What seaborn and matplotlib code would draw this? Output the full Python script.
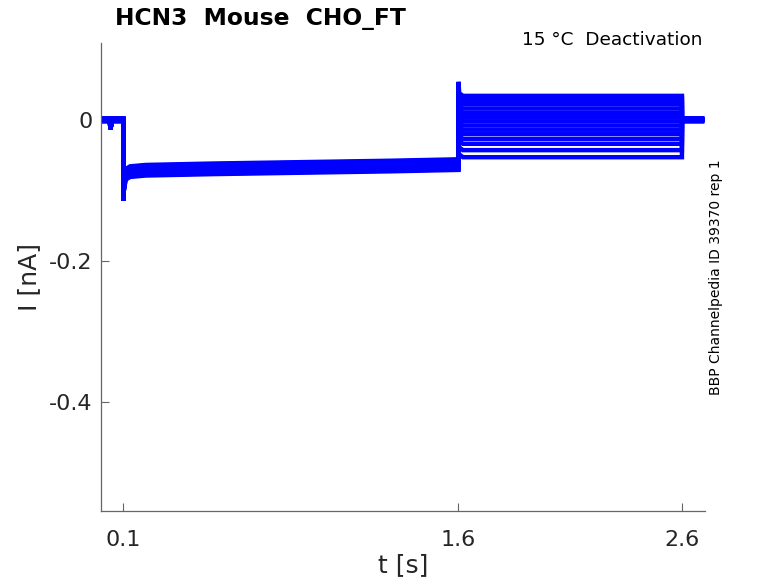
import matplotlib
matplotlib.use("Agg")
import matplotlib.pyplot as plt
import seaborn as sns
import pandas as pd

# sample times of each sweep [s]
t_points = [0.0, 0.04, 0.042, 0.05, 0.1, 0.1, 0.103, 0.11, 0.13, 0.2, 0.5, 0.9, 1.3, 1.6,
            1.6, 1.603, 1.62, 2.0, 2.6, 2.6, 2.7]

# current during the deactivation test pulse, one value per sweep [nA]
test_levels = [0.034, 0.031, 0.027, 0.022, 0.016, 0.010, 0.004, -0.002,
               -0.008, -0.014, -0.020, -0.027, -0.034, -0.043, -0.053]

# current during the hyperpolarising pre-pulse, one value per sweep [nA]
hold_levels = [-0.062, -0.068, -0.074, -0.066, -0.060, -0.071, -0.075, -0.064,
               -0.061, -0.069, -0.073, -0.065, -0.063, -0.070, -0.067]

# slow drift along the pre-pulse (shared by all sweeps) [nA]
hold_drift = [-0.006, -0.004, -0.002, 0.0, 0.002, 0.004]

# baseline before / after the protocol, one value per sweep [nA]
base_levels = [0.002, -0.001, 0.001, 0.0, -0.002, 0.002, 0.0, -0.001,
               0.001, 0.0, 0.002, -0.002, 0.001, -0.001, 0.0]

rows = []
for sweep, (test, hold, base) in enumerate(zip(test_levels, hold_levels, base_levels)):
    values = [base, base, -0.013, base, base,
              -0.115 if sweep == 0 else -0.095, hold - 0.025, hold - 0.01,
              hold + hold_drift[0], hold + hold_drift[1], hold + hold_drift[2],
              hold + hold_drift[3], hold + hold_drift[4], hold + hold_drift[5],
              0.054 if sweep == 0 else test + 0.01, test + 0.004, test, test, test,
              base, base]
    for t, v in zip(t_points, values):
        rows.append({"t": t, "I": v, "sweep": sweep})
df = pd.DataFrame(rows)

sns.set_style("white")
plt.rcParams["font.family"] = ["DejaVu Sans"]

fig = plt.figure(figsize=(7.78, 5.83), dpi=100)
ax = fig.add_axes([0.1298, 0.1235, 0.7763, 0.8027])

sns.lineplot(data=df, x="t", y="I", units="sweep", estimator=None, sort=False,
             color="#0000ff", linewidth=3.2, ax=ax, legend=False,
             solid_joinstyle="miter", solid_capstyle="butt")

ax.set_xlim(0.0, 2.703)
ax.set_ylim(-0.555, 0.109)
ax.set_xticks([0.1, 1.6, 2.6])
ax.set_xticklabels(["0.1", "1.6", "2.6"])
ax.set_yticks([0, -0.2, -0.4])
ax.set_yticklabels(["0", "-0.2", "-0.4"])
ax.tick_params(direction="in", length=6, width=0.8, colors="#666666",
               labelcolor="#262626", labelsize=16, bottom=True, left=True)
ax.tick_params(axis="x", pad=14)
ax.tick_params(axis="y", pad=6)
ax.set_xlabel("t [s]", fontsize=18, color="#262626", labelpad=2)
ax.set_ylabel("I [nA]", fontsize=18, color="#262626", labelpad=6)
for side in ["top", "right"]:
    ax.spines[side].set_visible(False)
for side in ["left", "bottom"]:
    ax.spines[side].set_color("#666666")
    ax.spines[side].set_linewidth(0.9)

fig.text(0.148, 0.969, "HCN3  Mouse  CHO_FT", fontsize=16.8, fontweight="bold",
         ha="left", va="center", color="black")
fig.text(0.903, 0.931, "15 °C  Deactivation", fontsize=13.3,
         ha="right", va="center", color="black")
fig.text(0.920, 0.525, "BBP Channelpedia ID 39370 rep 1", fontsize=10,
         rotation=90, ha="center", va="center", color="black")

fig.savefig("out.png", dpi=100)
